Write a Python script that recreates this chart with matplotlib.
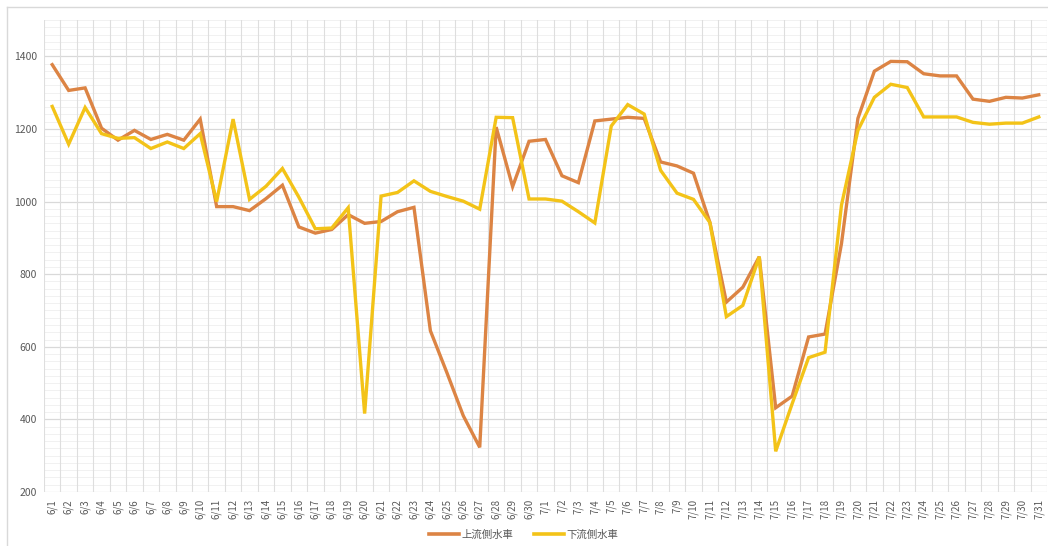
import matplotlib
matplotlib.use("Agg")
import matplotlib.pyplot as plt
from matplotlib.lines import Line2D
import numpy as np

plt.rcParams['font.family'] = ['Noto Sans CJK JP', 'DejaVu Sans']

dates = [f"6/{d}" for d in range(1, 31)] + [f"7/{d}" for d in range(1, 32)]

upstream = [1377, 1306, 1313, 1202, 1169, 1196, 1171, 1185, 1169, 1227,
            986, 986, 975, 1008, 1045, 930, 913, 923, 964, 940,
            945, 972, 984, 644, 529, 410, 323, 1205, 1041, 1166,
            1171, 1071, 1052, 1222, 1227, 1232, 1229, 1109, 1098, 1078,
            942, 723, 764, 848, 432, 464, 627, 635, 884, 1229,
            1359, 1386, 1385, 1352, 1346, 1346, 1282, 1276, 1287, 1285,
            1294]

downstream = [1262, 1158, 1259, 1187, 1174, 1176, 1146, 1164, 1146, 1187,
              1000, 1227, 1006, 1042, 1091, 1012, 925, 927, 983, 416,
              1015, 1025, 1057, 1028, 1014, 1001, 979, 1232, 1231, 1007,
              1007, 1001, 972, 941, 1208, 1267, 1241, 1086, 1023, 1006,
              942, 683, 714, 848, 312, 443, 570, 585, 990, 1196,
              1287, 1323, 1314, 1233, 1233, 1233, 1218, 1213, 1216, 1216,
              1233]

series_names = ["上流側水車", "下流側水車"]
colors = ["#DC8444", "#F3C318"]

W, H = 1048, 546
fig = plt.figure(figsize=(W / 100, H / 100), dpi=100)
fig.patch.set_facecolor("white")

ax = fig.add_axes([44 / W, 1 - 492 / H, (1047 - 44) / W, (492 - 20) / H])
x = np.arange(len(dates))

ax.set_xlim(-0.5, len(dates) - 0.5)
ax.set_ylim(200, 1500)

# grid
for v in np.arange(200, 1501, 20):
    if v % 200 != 0:
        ax.axhline(v, color="#F1F1F1", lw=0.7, zorder=0)
for v in range(200, 1501, 200):
    ax.axhline(v, color="#D9D9D9", lw=0.9, zorder=0.5)
for b in np.arange(-0.5, len(dates), 1.0):
    ax.axvline(b, color="#DEDEDE", lw=0.8, zorder=0.5)

ax.plot(x, upstream, color=colors[0], lw=2.4, solid_joinstyle="miter", zorder=3)
ax.plot(x, downstream, color=colors[1], lw=2.4, solid_joinstyle="miter", zorder=4)

ax.set_yticks(range(200, 1401, 200))
ax.set_yticklabels([str(v) for v in range(200, 1401, 200)], fontsize=7.5, color="#595959")
ax.set_xticks(x)
ax.set_xticklabels(dates, rotation=90, fontsize=7, color="#595959")
ax.tick_params(axis="both", length=0, pad=5)
for s in ax.spines.values():
    s.set_visible(False)

handles = [Line2D([0], [0], color=c, lw=2.6) for c in colors]
fig.legend(handles, series_names, loc="center", bbox_to_anchor=(0.5, 1 - 535 / H),
           ncol=2, frameon=False, fontsize=7.5, handlelength=2.8, columnspacing=2.0,
           handletextpad=0.3, labelcolor="#595959")

# chart border
fig.add_artist(Line2D([7 / W, 1.0], [1 - 7 / H, 1 - 7 / H], color="#D9D9D9", lw=1, transform=fig.transFigure))
fig.add_artist(Line2D([7 / W, 7 / W], [1 - 7 / H, 0], color="#D9D9D9", lw=1, transform=fig.transFigure))

fig.savefig("out.png", dpi=100)
